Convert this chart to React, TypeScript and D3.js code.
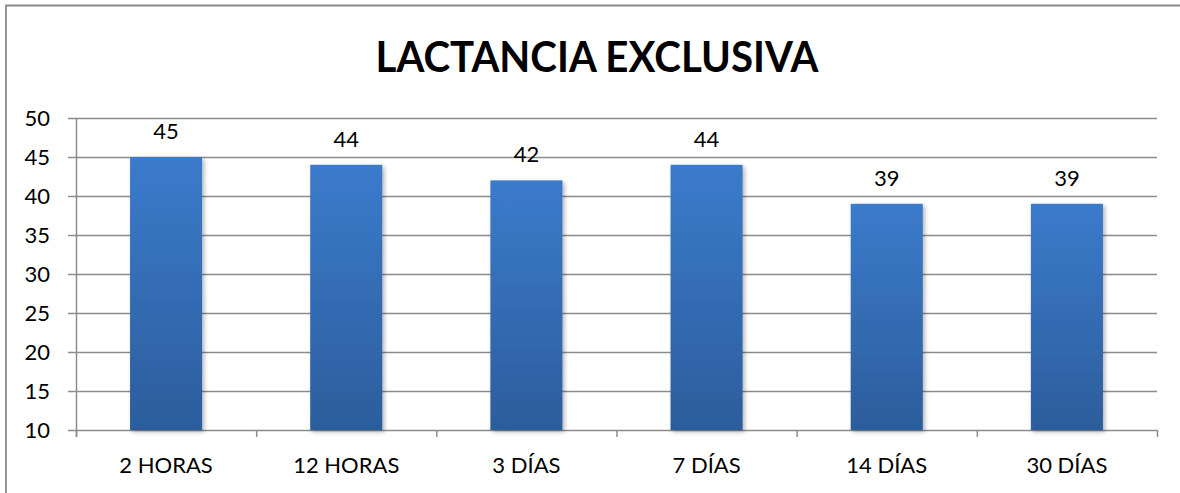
import React from "react";
import * as d3 from "d3";

const title = "LACTANCIA EXCLUSIVA";
const categories = ["2 HORAS", "12 HORAS", "3 DÍAS", "7 DÍAS", "14 DÍAS", "30 DÍAS"];
const values = [45, 44, 42, 44, 39, 39];
const yTicks = [10, 15, 20, 25, 30, 35, 40, 45, 50];

const W = 1180;
const H = 493;
const left = 76;
const right = 1157;
const top = 118;
const bottom = 430;
const font = "Lato, 'Open Sans', sans-serif";

export default function App() {
  const x = d3.scaleBand<string>().domain(categories).range([left, right]).paddingInner(0.6).paddingOuter(0.3);
  const y = d3.scaleLinear().domain([10, 50]).range([bottom, top]);
  const step = (right - left) / categories.length;
  const boundaries = d3.range(categories.length + 1).map((i) => left + i * step);

  return (
    <svg width={W} height={H} style={{ position: "absolute", left: 0, top: 0, background: "#fff", display: "block" }}>
      <defs>
        <linearGradient id="barGrad" x1="0" y1="0" x2="0" y2="1">
          <stop offset="0" stopColor="#3B7BCB" />
          <stop offset="1" stopColor="#2C5D9C" />
        </linearGradient>
        <filter id="shadow" x="-20%" y="-10%" width="140%" height="120%">
          <feDropShadow dx="2" dy="2" stdDeviation="2" floodColor="#000" floodOpacity="0.3" />
        </filter>
      </defs>
      <path d={`M6,${H}V5.5H${W}`} fill="none" stroke="#8a8a8a" strokeWidth={1.8} />
      <text x={597} y={72} textAnchor="middle" fontFamily={font} fontWeight={700} fontSize={42} textLength={443} lengthAdjust="spacingAndGlyphs" fill="#000">
        {title}
      </text>
      {yTicks.map((t) => (
        <g key={t}>
          <line x1={68} x2={right} y1={y(t) + 0.5} y2={y(t) + 0.5} stroke="#8c8c8c" strokeWidth={1.5} />
          <text x={50} y={y(t)} dy="0.36em" textAnchor="end" fontFamily={font} fontSize={22} fill="#000">
            {t}
          </text>
        </g>
      ))}
      <line x1={left + 0.5} x2={left + 0.5} y1={top} y2={bottom + 7} stroke="#8c8c8c" strokeWidth={1.5} />
      {boundaries.map((b, i) => (
        <line key={i} x1={b + 0.5} x2={b + 0.5} y1={bottom} y2={bottom + 7} stroke="#8c8c8c" strokeWidth={1.5} />
      ))}
      {categories.map((c, i) => (
        <g key={c}>
          <rect
            x={x(c)!}
            y={y(values[i])}
            width={x.bandwidth()}
            height={bottom - y(values[i])}
            fill="url(#barGrad)"
            filter="url(#shadow)"
          />
          <text x={x(c)! + x.bandwidth() / 2} y={y(values[i]) - 18} textAnchor="middle" fontFamily={font} fontSize={22} fill="#000">
            {values[i]}
          </text>
          <text x={x(c)! + x.bandwidth() / 2} y={473} textAnchor="middle" fontFamily={font} fontSize={22} fill="#000">
            {c}
          </text>
        </g>
      ))}
    </svg>
  );
}
